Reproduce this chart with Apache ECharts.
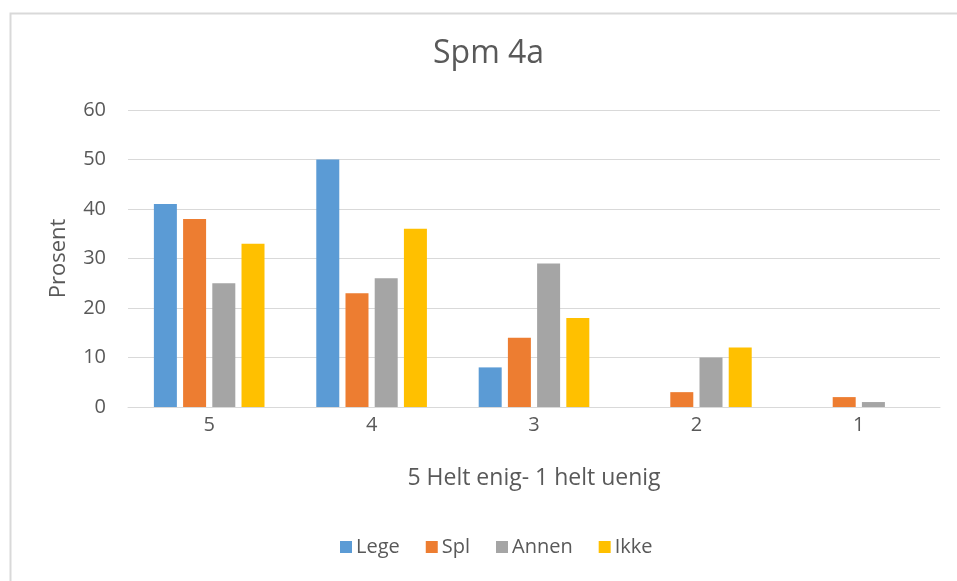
<!DOCTYPE html>
<html><head><meta charset="utf-8">
<script src="https://cdn.jsdelivr.net/npm/echarts@6/dist/echarts.min.js"></script>
<style>html,body{margin:0;padding:0;background:#fff}#c{width:957px;height:581px}</style>
</head><body><div id="c"></div>
<script>
const categories = ['5', '4', '3', '2', '1'];
const lege  = [41, 50, 8, 0, 0];
const spl   = [38, 23, 14, 3, 2];
const annen = [25, 26, 29, 10, 1];
const ikke  = [33, 36, 18, 12, 0];
const seriesNames = ['Lege', 'Spl', 'Annen', 'Ikke'];
const colors = ['#5B9BD5', '#ED7D31', '#A5A5A5', '#FFC000'];

const font = '"Open Sans", "Liberation Sans", sans-serif';
const txt = '#595959';
const chart = echarts.init(document.getElementById('c'), null, {renderer: 'canvas'});
const data = [lege, spl, annen, ikke];
chart.setOption({
  animation: false,
  color: colors,
  graphic: [{
    type: 'rect', left: 8, top: 11, z: -1,
    shape: {width: 1000, height: 700},
    style: {fill: 'none', stroke: '#D9D9D9', lineWidth: 2}
  }],
  title: {
    text: 'Spm 4a', left: 428, top: 33,
    textStyle: {fontFamily: font, fontSize: 32, fontWeight: 'normal', color: txt}
  },
  legend: {
    bottom: 19, left: 335, itemWidth: 12, itemHeight: 12, itemGap: 26,
    icon: 'rect',
    textStyle: {fontFamily: font, fontSize: 20, color: txt, padding: [0, 0, 0, -1]},
    data: seriesNames
  },
  grid: {left: 128, right: 17, top: 110, bottom: 174, containLabel: false},
  xAxis: {
    type: 'category', data: categories,
    name: '5 Helt enig- 1 helt uenig', nameLocation: 'middle', nameGap: 60,
    nameTextStyle: {fontFamily: font, fontSize: 23, color: txt},
    axisLine: {lineStyle: {color: '#D9D9D9', width: 1}},
    axisTick: {show: false},
    axisLabel: {fontFamily: font, fontSize: 20, color: txt, margin: 8}
  },
  yAxis: {
    type: 'value', min: 0, max: 60, interval: 10,
    name: 'Prosent', nameLocation: 'middle', nameGap: 58, nameRotate: 90,
    nameTextStyle: {fontFamily: font, fontSize: 22, color: txt},
    axisLine: {show: false}, axisTick: {show: false},
    axisLabel: {fontFamily: font, fontSize: 20, color: txt, margin: 22},
    splitLine: {lineStyle: {color: '#D9D9D9', width: 1}}
  },
  series: data.map((d, i) => ({
    name: seriesNames[i], type: 'bar', data: d,
    barWidth: 23, barGap: '27%'
  }))
});
</script></body></html>
